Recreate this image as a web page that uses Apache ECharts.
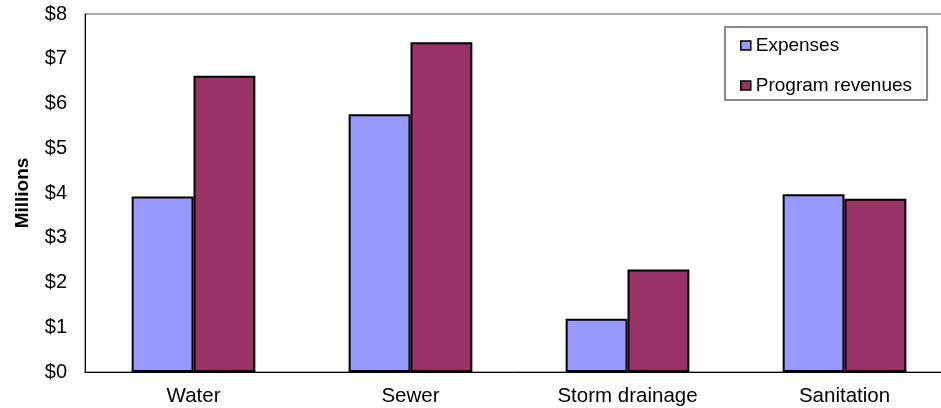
<!DOCTYPE html>
<html>
<head>
<meta charset="utf-8">
<script src="https://cdn.jsdelivr.net/npm/echarts@6/dist/echarts.min.js"></script>
<style>
  html, body { margin: 0; padding: 0; background: #fff; }
  #chart { width: 941px; height: 408px; }
</style>
</head>
<body>
<div id="chart"></div>
<script>
// Utility funds: expenses vs. program revenues, in millions of dollars
const categories = ['Water', 'Sewer', 'Storm drainage', 'Sanitation'];
const expenses = [3.92, 5.76, 1.19, 3.97];
const programRevenues = [6.62, 7.37, 2.29, 3.87];
const yTicks = [0, 1, 2, 3, 4, 5, 6, 7, 8];

const font = 'Liberation Sans, Arial, sans-serif';
const chart = echarts.init(document.getElementById('chart'), null, { renderer: 'canvas' });

chart.setOption({
  animation: false,
  backgroundColor: '#fff',
  textStyle: { fontFamily: font },
  grid: {
    left: 85, top: 14, width: 868, height: 358,
    outerBoundsMode: 'none',
    show: true, borderColor: '#555', borderWidth: 1
  },
  legend: {
    orient: 'vertical',
    left: 725, top: 27,
    padding: [9, 15, 5, 15],
    itemGap: 21,
    itemWidth: 10, itemHeight: 9,
    icon: 'rect',
    backgroundColor: '#fff',
    borderColor: '#888',
    borderWidth: 2,
    itemStyle: { borderWidth: 1.5, borderColor: '#000' },
    textStyle: { fontFamily: font, fontSize: 19, color: '#000' },
    data: ['Expenses', 'Program revenues']
  },
  xAxis: {
    type: 'category',
    data: categories,
    axisLine: { lineStyle: { color: '#000', width: 1 } },
    axisTick: { show: false },
    axisLabel: { fontFamily: font, fontSize: 20.5, color: '#000', margin: 14 }
  },
  yAxis: {
    type: 'value',
    min: yTicks[0], max: yTicks[yTicks.length - 1], interval: 1,
    name: 'Millions',
    nameLocation: 'middle',
    nameGap: 53,
    nameTextStyle: { fontFamily: font, fontSize: 19, fontWeight: 'bold', color: '#000' },
    axisLine: { show: true, lineStyle: { color: '#000', width: 1 } },
    axisTick: { show: false },
    splitLine: { show: false },
    axisLabel: {
      fontFamily: font, fontSize: 20, color: '#000', margin: 18,
      formatter: v => '$' + v
    }
  },
  series: [
    {
      name: 'Expenses', type: 'bar', data: expenses,
      barGap: '0%', barCategoryGap: '43%',
      itemStyle: { color: '#9999FF', borderColor: '#000', borderWidth: 2 }
    },
    {
      name: 'Program revenues', type: 'bar', data: programRevenues,
      itemStyle: { color: '#993366', borderColor: '#000', borderWidth: 2 }
    }
  ]
});
</script>
</body>
</html>
